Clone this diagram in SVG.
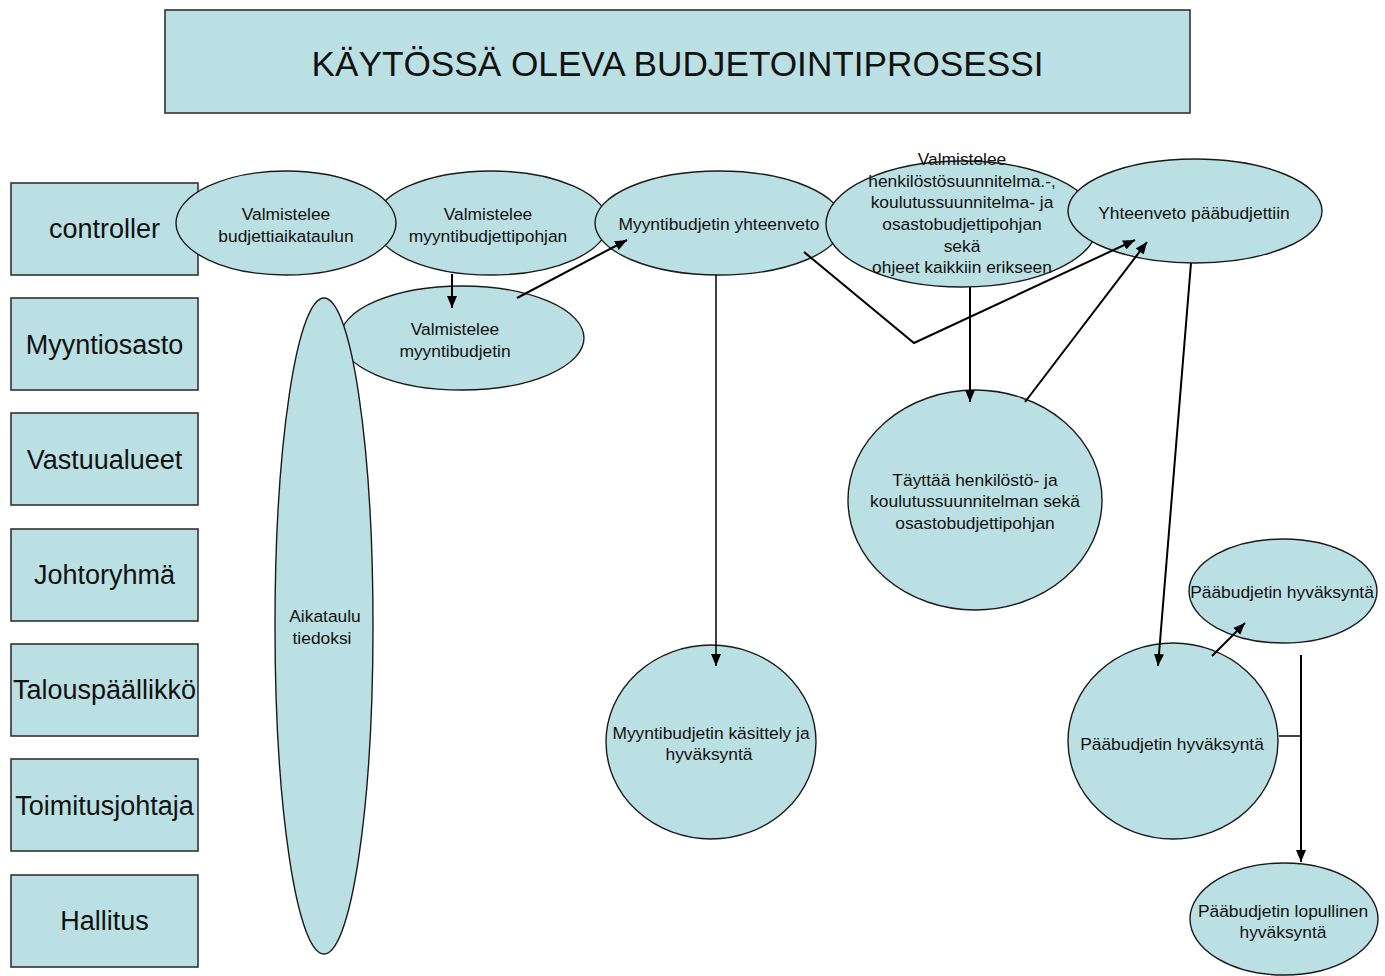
<svg xmlns="http://www.w3.org/2000/svg" width="1385" height="976" viewBox="0 0 1385 976">
  <style>
    .shape { fill: #bbe0e3; stroke: #1a1a1a; stroke-width: 1.4; }
    .box { fill: #bbe0e3; stroke: #333333; stroke-width: 1.6; }
    text { font-family: "Liberation Sans", Arial, sans-serif; fill: #111111; text-anchor: middle; }
    .title { font-size: 35.2px; }
    .lane { font-size: 27px; }
    .lbl { font-size: 17.4px; }
    .flow { fill: none; stroke: #000000; stroke-width: 2; }
    .thin { fill: none; stroke: #000000; stroke-width: 1.5; }
  </style>
  <defs>
    <marker id="arrow" markerUnits="userSpaceOnUse" markerWidth="12" markerHeight="10" refX="12" refY="5" orient="auto">
      <path d="M0,0 L12,5 L0,10 z" fill="#000000"/>
    </marker>
  </defs>

  <rect width="1385" height="976" fill="#ffffff"/>

  <!-- heading -->
  <g id="title">
    <rect class="box" x="165" y="10" width="1025" height="103"/>
    <text class="title" x="677.5" y="76">KÄYTÖSSÄ OLEVA BUDJETOINTIPROSESSI</text>
  </g>

  <!-- swim-lane labels -->
  <g id="lane-controller">
    <rect class="box" x="11" y="183" width="187" height="92"/>
    <text class="lane" x="104.5" y="238">controller</text>
  </g>
  <g id="lane-myyntiosasto">
    <rect class="box" x="11" y="298" width="187" height="92"/>
    <text class="lane" x="104.5" y="354">Myyntiosasto</text>
  </g>
  <g id="lane-vastuualueet">
    <rect class="box" x="11" y="413" width="187" height="92"/>
    <text class="lane" x="104.5" y="469">Vastuualueet</text>
  </g>
  <g id="lane-johtoryhma">
    <rect class="box" x="11" y="529" width="187" height="92"/>
    <text class="lane" x="104.5" y="584">Johtoryhmä</text>
  </g>
  <g id="lane-talouspaallikko">
    <rect class="box" x="11" y="644" width="187" height="92"/>
    <text class="lane" x="104.5" y="699">Talouspäällikkö</text>
  </g>
  <g id="lane-toimitusjohtaja">
    <rect class="box" x="11" y="759" width="187" height="92"/>
    <text class="lane" x="104.5" y="815">Toimitusjohtaja</text>
  </g>
  <g id="lane-hallitus">
    <rect class="box" x="11" y="875" width="187" height="92"/>
    <text class="lane" x="104.5" y="930">Hallitus</text>
  </g>

  <!-- process steps -->
  <g id="step-myyntibudjettipohja">
    <ellipse class="shape" cx="491" cy="223" rx="117" ry="52"/>
    <text class="lbl" x="488" y="220">Valmistelee</text>
    <text class="lbl" x="488" y="242">myyntibudjettipohjan</text>
  </g>
  <g id="step-budjettiaikataulu">
    <ellipse class="shape" cx="286" cy="223" rx="110" ry="52"/>
    <text class="lbl" x="286" y="220">Valmistelee</text>
    <text class="lbl" x="286" y="242">budjettiaikataulun</text>
  </g>
  <g id="step-myyntibudjetin-yhteenveto">
    <ellipse class="shape" cx="719" cy="223" rx="124" ry="52"/>
    <text class="lbl" x="719" y="230">Myyntibudjetin yhteenveto</text>
  </g>
  <g id="step-henkilostosuunnitelma">
    <ellipse class="shape" cx="962" cy="224" rx="136" ry="63"/>
    <text class="lbl" x="962" y="165">Valmistelee</text>
    <text class="lbl" x="962" y="187">henkilöstösuunnitelma.-,</text>
    <text class="lbl" x="962" y="208">koulutussuunnitelma- ja</text>
    <text class="lbl" x="962" y="230">osastobudjettipohjan</text>
    <text class="lbl" x="962" y="252">sekä</text>
    <text class="lbl" x="962" y="273">ohjeet kaikkiin erikseen</text>
  </g>
  <g id="step-yhteenveto-paabudjettiin">
    <ellipse class="shape" cx="1195" cy="211" rx="127" ry="52"/>
    <text class="lbl" x="1194" y="219">Yhteenveto pääbudjettiin</text>
  </g>
  <g id="step-myyntibudjetti">
    <ellipse class="shape" cx="462" cy="338" rx="122" ry="52"/>
    <text class="lbl" x="455" y="335">Valmistelee</text>
    <text class="lbl" x="455" y="357">myyntibudjetin</text>
  </g>
  <g id="step-aikataulu">
    <ellipse class="shape" cx="324" cy="626" rx="49" ry="328"/>
    <text class="lbl" x="325" y="622">Aikataulu</text>
    <text class="lbl" x="322" y="644">tiedoksi</text>
  </g>
  <g id="step-taytta-pohjat">
    <ellipse class="shape" cx="975" cy="500" rx="127" ry="110"/>
    <text class="lbl" x="975" y="486">Täyttää henkilöstö- ja</text>
    <text class="lbl" x="975" y="507">koulutussuunnitelman sekä</text>
    <text class="lbl" x="975" y="529">osastobudjettipohjan</text>
  </g>
  <g id="step-myyntibudjetin-hyvaksynta">
    <ellipse class="shape" cx="711" cy="742" rx="105" ry="97"/>
    <text class="lbl" x="711" y="739">Myyntibudjetin käsittely ja</text>
    <text class="lbl" x="709" y="760">hyväksyntä</text>
  </g>
  <g id="step-paabudjetin-hyvaksynta">
    <ellipse class="shape" cx="1173" cy="741" rx="105" ry="98"/>
    <text class="lbl" x="1172" y="750">Pääbudjetin hyväksyntä</text>
  </g>
  <g id="step-paabudjetin-hyvaksynta-2">
    <ellipse class="shape" cx="1283" cy="591" rx="94" ry="52"/>
    <text class="lbl" x="1282" y="598">Pääbudjetin hyväksyntä</text>
  </g>
  <g id="step-lopullinen-hyvaksynta">
    <ellipse class="shape" cx="1284" cy="919" rx="94" ry="56"/>
    <text class="lbl" x="1283" y="917">Pääbudjetin lopullinen</text>
    <text class="lbl" x="1283" y="938">hyväksyntä</text>
  </g>

  <!-- connectors -->
  <g id="connectors">
    <line class="flow" x1="452" y1="274" x2="452" y2="308" marker-end="url(#arrow)"/>
    <line class="flow" x1="517" y1="298" x2="627" y2="240" marker-end="url(#arrow)"/>
    <line class="thin" x1="716" y1="275" x2="716" y2="666" marker-end="url(#arrow)"/>
    <polyline class="flow" points="804,252 914,343 1135,240" marker-end="url(#arrow)"/>
    <line class="flow" x1="970" y1="287" x2="970" y2="402" marker-end="url(#arrow)"/>
    <line class="flow" x1="1025" y1="402" x2="1147" y2="242" marker-end="url(#arrow)"/>
    <line class="flow" x1="1191" y1="263" x2="1158" y2="666" marker-end="url(#arrow)"/>
    <line class="flow" x1="1212" y1="656" x2="1245" y2="623" marker-end="url(#arrow)"/>
    <line class="thin" x1="1279" y1="736" x2="1301" y2="736"/>
    <line class="flow" x1="1301" y1="655" x2="1301" y2="862" marker-end="url(#arrow)"/>
  </g>
</svg>
